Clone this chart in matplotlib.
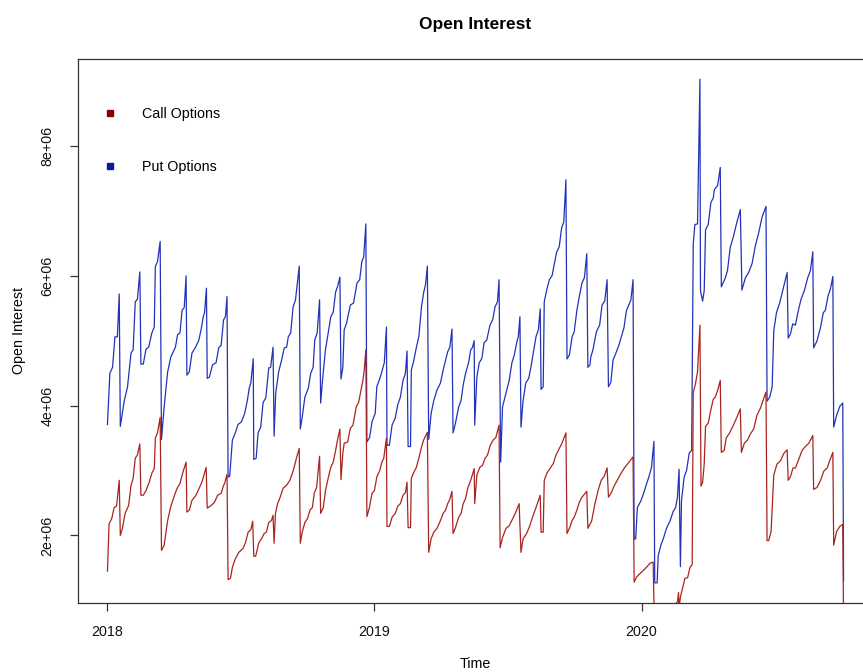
import matplotlib
matplotlib.use("Agg")
import matplotlib.pyplot as plt
from matplotlib.lines import Line2D

plt.rcParams["font.family"] = ["Liberation Sans", "DejaVu Sans"]

# time in decimal years (ts index), open interest in millions of contracts
put_t = [
    2018.003, 2018.012, 2018.022, 2018.031, 2018.040, 2018.047, 2018.051,
    2018.066, 2018.078, 2018.091, 2018.099, 2018.107, 2018.115, 2018.124, 2018.128,
    2018.137, 2018.147, 2018.157, 2018.169, 2018.178, 2018.182, 2018.190, 2018.200, 2018.205,
    2018.215, 2018.228, 2018.240, 2018.257, 2018.265, 2018.274, 2018.282, 2018.290, 2018.297, 2018.300,
    2018.309, 2018.319, 2018.331, 2018.344, 2018.353, 2018.361, 2018.366, 2018.373, 2018.376,
    2018.384, 2018.396, 2018.409, 2018.419, 2018.428, 2018.437, 2018.444, 2018.450, 2018.454,
    2018.460, 2018.470, 2018.481, 2018.491, 2018.504, 2018.516, 2018.526, 2018.533, 2018.539, 2018.548, 2018.550,
    2018.559, 2018.566, 2018.576, 2018.585, 2018.595, 2018.606, 2018.613, 2018.622, 2018.626,
    2018.632, 2018.643, 2018.654, 2018.664, 2018.673, 2018.679, 2018.688, 2018.697, 2018.706, 2018.720, 2018.724,
    2018.731, 2018.741, 2018.754, 2018.763, 2018.772, 2018.778, 2018.787, 2018.796, 2018.800,
    2018.807, 2018.818, 2018.828, 2018.838, 2018.847, 2018.856, 2018.863, 2018.872, 2018.876,
    2018.883, 2018.888, 2018.897, 2018.911, 2018.923, 2018.936, 2018.946, 2018.954, 2018.961, 2018.969, 2018.973,
    2018.983, 2018.992, 2019.004, 2019.010, 2019.023, 2019.033, 2019.038, 2019.046, 2019.048,
    2019.057, 2019.067, 2019.079, 2019.088, 2019.098, 2019.108, 2019.117, 2019.123, 2019.127,
    2019.136, 2019.139, 2019.148, 2019.158, 2019.167, 2019.177, 2019.185, 2019.192, 2019.199, 2019.204,
    2019.213, 2019.223, 2019.235, 2019.248, 2019.258, 2019.267, 2019.275, 2019.283, 2019.291, 2019.295,
    2019.304, 2019.316, 2019.325, 2019.333, 2019.342, 2019.353, 2019.361, 2019.368, 2019.374, 2019.376,
    2019.384, 2019.393, 2019.403, 2019.411, 2019.421, 2019.433, 2019.443, 2019.452, 2019.461, 2019.467, 2019.473,
    2019.480, 2019.493, 2019.505, 2019.515, 2019.524, 2019.533, 2019.539, 2019.545, 2019.549,
    2019.557, 2019.567, 2019.578, 2019.586, 2019.595, 2019.605, 2019.614, 2019.621, 2019.624,
    2019.632, 2019.636, 2019.645, 2019.655, 2019.665, 2019.673, 2019.682, 2019.692, 2019.701, 2019.709, 2019.717, 2019.721,
    2019.730, 2019.740, 2019.748, 2019.758, 2019.767, 2019.777, 2019.786, 2019.795, 2019.799,
    2019.807, 2019.810, 2019.818, 2019.831, 2019.843, 2019.852, 2019.862, 2019.871, 2019.876,
    2019.885, 2019.893, 2019.903, 2019.915, 2019.924, 2019.934, 2019.943, 2019.952, 2019.960, 2019.968, 2019.972,
    2019.978, 2019.984, 2019.997, 2020.006, 2020.018, 2020.027, 2020.037, 2020.046, 2020.049,
    2020.058, 2020.062, 2020.072, 2020.081, 2020.093, 2020.106, 2020.118, 2020.127, 2020.134, 2020.140, 2020.145,
    2020.149, 2020.159, 2020.168, 2020.178, 2020.187, 2020.193, 2020.199, 2020.209, 2020.218, 2020.220, 2020.228, 2020.234,
    2020.239, 2020.249, 2020.259, 2020.268, 2020.272, 2020.284, 2020.294, 2020.298,
    2020.313, 2020.321, 2020.331, 2020.344, 2020.354, 2020.369, 2020.375,
    2020.388, 2020.400, 2020.413, 2020.425, 2020.437, 2020.450, 2020.465, 2020.469,
    2020.479, 2020.488, 2020.494, 2020.504, 2020.516, 2020.529, 2020.544, 2020.548,
    2020.556, 2020.565, 2020.575, 2020.584, 2020.596, 2020.609, 2020.621, 2020.631, 2020.640, 2020.643,
    2020.656, 2020.669, 2020.679, 2020.687, 2020.697, 2020.706, 2020.715, 2020.718,
    2020.729, 2020.741, 2020.752, 2020.755,
]
put_oi = [
    3.71, 4.50, 4.59, 5.06, 5.06, 5.72, 3.68,
    4.08, 4.29, 4.81, 4.86, 5.60, 5.64, 6.06, 4.64,
    4.64, 4.87, 4.90, 5.12, 5.21, 6.14, 6.22, 6.53, 3.48,
    3.98, 4.52, 4.75, 4.90, 5.09, 5.12, 5.47, 5.51, 6.00, 4.47,
    4.52, 4.81, 4.89, 5.00, 5.17, 5.37, 5.43, 5.81, 4.42,
    4.44, 4.63, 4.66, 4.89, 4.93, 5.32, 5.37, 5.68, 2.90,
    2.91, 3.47, 3.58, 3.71, 3.75, 3.88, 4.08, 4.27, 4.35, 4.72, 3.17,
    3.19, 3.58, 3.67, 4.05, 4.12, 4.58, 4.59, 4.90, 3.53,
    4.19, 4.52, 4.70, 4.89, 4.90, 5.06, 5.12, 5.52, 5.63, 6.15, 3.64,
    3.82, 4.13, 4.27, 4.50, 4.59, 5.01, 5.12, 5.63, 4.04,
    4.39, 4.86, 5.12, 5.37, 5.44, 5.75, 5.83, 5.98, 4.41,
    4.59, 5.17, 5.27, 5.55, 5.58, 5.89, 5.94, 6.22, 6.29, 6.80, 3.44,
    3.51, 3.75, 3.88, 4.29, 4.44, 4.59, 4.66, 5.21, 3.39,
    3.39, 3.70, 3.81, 4.01, 4.13, 4.39, 4.50, 4.84, 3.37,
    3.37, 4.55, 4.69, 4.90, 5.06, 5.52, 5.74, 5.86, 6.15, 3.48,
    3.88, 4.08, 4.24, 4.35, 4.55, 4.70, 4.83, 4.90, 5.18, 3.58,
    3.73, 3.98, 4.08, 4.32, 4.50, 4.66, 4.86, 4.90, 5.00, 3.70,
    4.44, 4.66, 4.73, 4.97, 5.01, 5.24, 5.32, 5.52, 5.60, 5.94, 3.13,
    3.98, 4.19, 4.39, 4.66, 4.78, 4.97, 5.06, 5.37, 3.67,
    4.08, 4.35, 4.42, 4.59, 4.81, 5.06, 5.17, 5.49, 4.25,
    4.29, 5.60, 5.78, 5.94, 6.00, 6.17, 6.36, 6.45, 6.74, 6.83, 7.48, 4.72,
    4.78, 5.06, 5.14, 5.47, 5.68, 5.89, 5.97, 6.34, 4.59,
    4.63, 4.75, 4.86, 5.14, 5.24, 5.55, 5.61, 5.94, 4.29,
    4.36, 4.70, 4.80, 4.93, 5.06, 5.20, 5.46, 5.55, 5.63, 5.94, 1.94,
    1.95, 2.43, 2.53, 2.63, 2.79, 2.90, 3.05, 3.45, 1.27,
    1.27, 1.69, 1.85, 1.95, 2.11, 2.22, 2.37, 2.43, 2.59, 3.02, 1.52,
    2.53, 2.90, 3.00, 3.27, 3.31, 6.49, 6.79, 6.80, 9.03, 5.77, 5.61, 5.77,
    6.71, 6.79, 7.13, 7.20, 7.33, 7.39, 7.67, 5.83,
    5.97, 6.08, 6.43, 6.62, 6.79, 7.02, 5.78,
    5.97, 6.05, 6.19, 6.46, 6.65, 6.90, 7.07, 4.07,
    4.13, 4.29, 5.15, 5.43, 5.58, 5.80, 6.05, 5.04,
    5.10, 5.26, 5.24, 5.43, 5.64, 5.78, 5.97, 6.08, 6.37, 4.89,
    5.00, 5.21, 5.43, 5.47, 5.69, 5.80, 5.99, 3.67,
    3.85, 3.99, 4.04, 1.30,
]

call_t = [
    2018.003, 2018.009, 2018.019, 2018.028, 2018.037, 2018.047, 2018.051,
    2018.059, 2018.069, 2018.082, 2018.091, 2018.099, 2018.107, 2018.115, 2018.124, 2018.128,
    2018.137, 2018.147, 2018.159, 2018.169, 2018.178, 2018.182, 2018.190, 2018.200, 2018.205,
    2018.215, 2018.228, 2018.240, 2018.257, 2018.265, 2018.274, 2018.284, 2018.297, 2018.300,
    2018.309, 2018.319, 2018.334, 2018.344, 2018.356, 2018.372, 2018.376,
    2018.390, 2018.403, 2018.415, 2018.428, 2018.437, 2018.441, 2018.450, 2018.454,
    2018.463, 2018.470, 2018.481, 2018.494, 2018.510, 2018.519, 2018.529, 2018.539, 2018.546, 2018.550,
    2018.557, 2018.569, 2018.579, 2018.589, 2018.597, 2018.606, 2018.616, 2018.622, 2018.626,
    2018.631, 2018.639, 2018.647, 2018.660, 2018.672, 2018.685, 2018.697, 2018.710, 2018.720, 2018.724,
    2018.731, 2018.741, 2018.751, 2018.760, 2018.769, 2018.776, 2018.785, 2018.796, 2018.800,
    2018.810, 2018.818, 2018.828, 2018.838, 2018.847, 2018.856, 2018.863, 2018.872, 2018.876,
    2018.883, 2018.888, 2018.901, 2018.911, 2018.921, 2018.933, 2018.942, 2018.951, 2018.958, 2018.963, 2018.969, 2018.973,
    2018.982, 2018.992, 2019.001, 2019.010, 2019.021, 2019.029, 2019.036, 2019.046, 2019.048,
    2019.057, 2019.067, 2019.079, 2019.088, 2019.098, 2019.108, 2019.117, 2019.123, 2019.127,
    2019.136, 2019.139, 2019.148, 2019.158, 2019.167, 2019.177, 2019.185, 2019.199, 2019.204,
    2019.213, 2019.223, 2019.235, 2019.248, 2019.258, 2019.267, 2019.275, 2019.283, 2019.291, 2019.295,
    2019.304, 2019.316, 2019.325, 2019.333, 2019.342, 2019.350, 2019.361, 2019.374, 2019.376,
    2019.384, 2019.395, 2019.405, 2019.415, 2019.424, 2019.434, 2019.445, 2019.455, 2019.467, 2019.471,
    2019.480, 2019.493, 2019.505, 2019.518, 2019.530, 2019.542, 2019.549,
    2019.557, 2019.570, 2019.582, 2019.592, 2019.605, 2019.621, 2019.624,
    2019.632, 2019.636, 2019.646, 2019.657, 2019.670, 2019.680, 2019.692, 2019.702, 2019.717, 2019.721,
    2019.730, 2019.740, 2019.748, 2019.758, 2019.767, 2019.777, 2019.795, 2019.799,
    2019.813, 2019.825, 2019.837, 2019.849, 2019.860, 2019.871, 2019.876,
    2019.887, 2019.897, 2019.909, 2019.922, 2019.934, 2019.947, 2019.968, 2019.972,
    2019.981, 2019.993, 2020.006, 2020.018, 2020.031, 2020.043, 2020.047,
    2020.058, 2020.093, 2020.118, 2020.134, 2020.138, 2020.140,
    2020.145, 2020.152, 2020.162, 2020.172, 2020.181, 2020.189, 2020.193, 2020.201, 2020.209, 2020.218, 2020.222,
    2020.228, 2020.234, 2020.239, 2020.249, 2020.259, 2020.268, 2020.275, 2020.284, 2020.294, 2020.298,
    2020.309, 2020.316, 2020.329, 2020.342, 2020.354, 2020.369, 2020.373,
    2020.384, 2020.396, 2020.406, 2020.419, 2020.431, 2020.444, 2020.456, 2020.465, 2020.469,
    2020.475, 2020.484, 2020.494, 2020.506, 2020.519, 2020.531, 2020.544, 2020.548,
    2020.556, 2020.566, 2020.575, 2020.587, 2020.600, 2020.612, 2020.625, 2020.640, 2020.643,
    2020.656, 2020.669, 2020.681, 2020.694, 2020.703, 2020.715, 2020.718,
    2020.729, 2020.741, 2020.752, 2020.755,
]
call_oi = [
    1.45, 2.18, 2.26, 2.43, 2.45, 2.85, 2.00,
    2.11, 2.34, 2.46, 2.77, 2.88, 3.19, 3.24, 3.41, 2.62,
    2.62, 2.69, 2.82, 2.96, 3.03, 3.50, 3.58, 3.82, 1.77,
    1.85, 2.23, 2.45, 2.66, 2.74, 2.80, 2.96, 3.13, 2.36,
    2.39, 2.54, 2.62, 2.71, 2.82, 3.05, 2.42,
    2.46, 2.51, 2.62, 2.65, 2.77, 2.80, 2.94, 1.32,
    1.34, 1.51, 1.64, 1.74, 1.80, 1.89, 2.05, 2.09, 2.22, 1.68,
    1.68, 1.89, 1.95, 2.03, 2.05, 2.20, 2.23, 2.31, 1.88,
    2.34, 2.49, 2.57, 2.73, 2.77, 2.85, 2.99, 3.20, 3.34, 1.88,
    2.05, 2.20, 2.26, 2.39, 2.43, 2.65, 2.74, 3.22, 2.34,
    2.43, 2.69, 2.88, 3.05, 3.13, 3.31, 3.47, 3.64, 2.86,
    3.27, 3.42, 3.44, 3.65, 3.70, 3.98, 4.05, 4.24, 4.39, 4.55, 4.86, 2.29,
    2.42, 2.65, 2.69, 2.90, 3.00, 3.13, 3.19, 3.50, 2.14,
    2.14, 2.28, 2.34, 2.45, 2.49, 2.62, 2.66, 2.82, 2.12,
    2.12, 2.88, 2.97, 3.05, 3.19, 3.36, 3.47, 3.59, 1.74,
    1.95, 2.05, 2.11, 2.23, 2.34, 2.39, 2.49, 2.56, 2.68, 2.03,
    2.12, 2.28, 2.34, 2.49, 2.57, 2.73, 2.85, 3.03, 2.49,
    2.93, 3.05, 3.08, 3.19, 3.24, 3.39, 3.47, 3.51, 3.70, 1.81,
    1.97, 2.11, 2.15, 2.26, 2.36, 2.49, 1.74,
    1.95, 2.03, 2.15, 2.28, 2.43, 2.62, 2.05,
    2.05, 2.85, 2.96, 3.03, 3.11, 3.24, 3.34, 3.42, 3.58, 2.03,
    2.11, 2.23, 2.28, 2.39, 2.51, 2.59, 2.68, 2.11,
    2.22, 2.48, 2.69, 2.85, 2.91, 3.04, 2.59,
    2.66, 2.76, 2.85, 2.95, 3.03, 3.10, 3.21, 1.28,
    1.36, 1.41, 1.46, 1.51, 1.57, 1.59, 0.80,
    0.80, 0.85, 0.90, 0.98, 1.12, 0.88,
    1.05, 1.17, 1.34, 1.35, 1.51, 1.55, 4.20, 4.33, 4.52, 5.24, 2.76,
    2.82, 3.10, 3.68, 3.73, 3.94, 4.10, 4.13, 4.23, 4.39, 3.28,
    3.31, 3.50, 3.58, 3.69, 3.80, 3.95, 3.28,
    3.42, 3.47, 3.56, 3.64, 3.85, 3.96, 4.10, 4.21, 1.92,
    1.92, 2.06, 2.93, 3.10, 3.15, 3.26, 3.32, 2.85,
    2.90, 3.04, 3.04, 3.17, 3.31, 3.37, 3.42, 3.54, 2.71,
    2.74, 2.85, 2.99, 3.04, 3.15, 3.28, 1.85,
    2.06, 2.14, 2.17, 0.70,
]

year_ticks = [2018, 2019, 2020]
oi_ticks = [2, 4, 6, 8]
oi_tick_labels = ["2e+06", "4e+06", "6e+06", "8e+06"]

call_col = "#a8251f"
put_col = "#2233b8"


def r_lim(vals):
    # R's default 4% axis expansion
    lo, hi = min(vals), max(vals)
    pad = 0.04 * (hi - lo)
    return lo - pad, hi + pad


fig = plt.figure(figsize=(8.63, 6.72), dpi=100)
ax = fig.add_axes([0.0904, 0.1027, 0.9212, 0.8095])

ax.plot(put_t, put_oi, color=put_col, lw=0.9)
ax.plot(call_t, call_oi, color=call_col, lw=0.9)

ax.set_xlim(r_lim(put_t))
ax.set_ylim(r_lim(put_oi))

ax.set_xticks(year_ticks)
ax.set_xticklabels([str(y) for y in year_ticks])
ax.set_yticks(oi_ticks)
ax.set_yticklabels(oi_tick_labels, rotation=90, va="center")

for side in ax.spines.values():
    side.set_color("#333333")
    side.set_linewidth(0.9)
ax.tick_params(axis="both", direction="out", length=6, width=0.9,
               color="#333333", labelsize=10.3, labelcolor="#111111")
ax.tick_params(axis="x", pad=10)
ax.tick_params(axis="y", pad=11)

ax.text(0.5, 1.064, "Open Interest", transform=ax.transAxes,
        ha="center", va="center", fontsize=12.5, fontweight="bold")
ax.set_xlabel("Time", fontsize=10.3, va="center")
ax.xaxis.set_label_coords(0.5, -0.113)
ax.set_ylabel("Open Interest", fontsize=10.3, va="center")
ax.yaxis.set_label_coords(-0.074, 0.5)

handles = [
    Line2D([], [], marker="s", linestyle="None", color="#8b0000", markersize=4.5),
    Line2D([], [], marker="s", linestyle="None", color="#0a1a9a", markersize=4.5),
]
ax.legend(handles, ["Call Options", "Put Options"], loc="upper left",
          bbox_to_anchor=(0.0313, 0.912), frameon=False, fontsize=10.3,
          handlelength=1.0, handletextpad=1.74, borderpad=0, borderaxespad=0,
          labelspacing=2.76)

fig.savefig("out.png", dpi=100)
